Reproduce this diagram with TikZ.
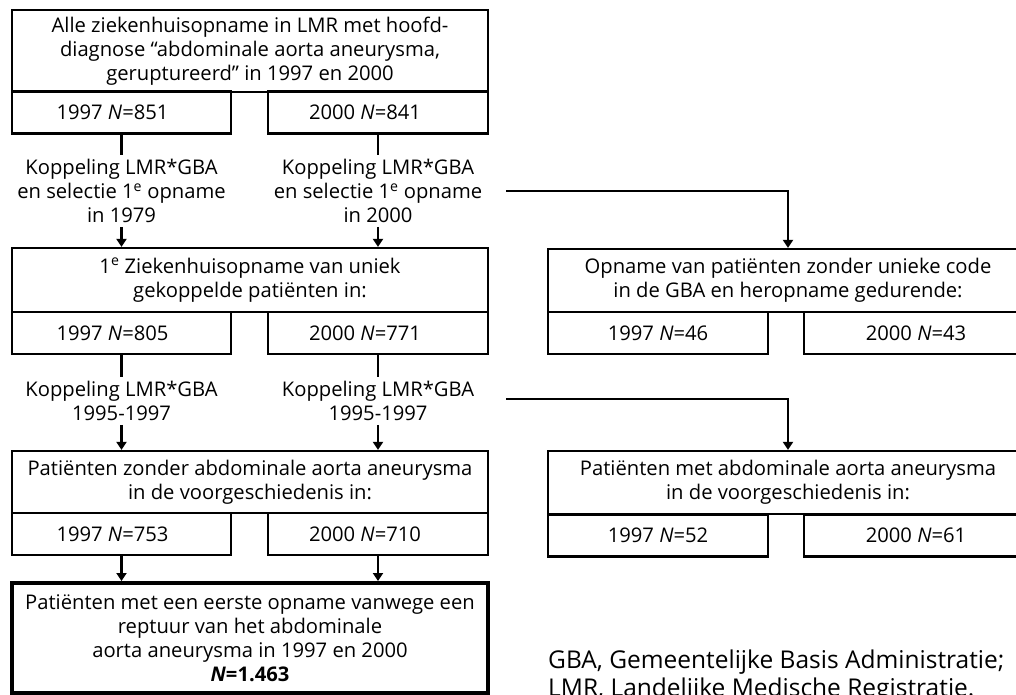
\documentclass[tikz,border=0pt]{standalone}
\usepackage{fontspec}
\setmainfont{Open Sans}
\usetikzlibrary{arrows.meta}
\newcommand\bxfont{\fontsize{20.2}{24}\selectfont}
\newcommand\ftfont{\fontsize{24.5}{27.5}\selectfont}
\begin{document}
\begin{tikzpicture}[x=1pt,y=-1pt,
  box/.style={draw, line width=2.2pt, inner sep=0pt, align=center, font=\bxfont},
  bigbox/.style={box, minimum width=476, },
  subbox/.style={draw, line width=2.2pt, inner sep=0pt, font=\bxfont, minimum height=42},
  lbl/.style={inner sep=4pt, align=center, font=\bxfont},
  conn/.style={line width=2.2pt},
  arr/.style={line width=2.2pt, -{Triangle[width=10pt,length=8pt]}},
]
\useasboundingbox (0,0) rectangle (1016,695);
\fill[white] (0,0) rectangle (1016,695);

% left column
\node[bigbox, minimum height=82] (A) at (250,51) {Alle ziekenhuisopname in LMR met hoofd-\\diagnose “abdominale aorta aneurysma,\\geruptureerd” in 1997 en 2000};
\node[subbox, minimum width=219] (A1) at (121.5,112.5) {1997 \textit{N}=851\hspace*{18pt}};
\node[subbox, minimum width=220] (A2) at (378,112.5) {2000 \textit{N}=841\hspace*{26pt}};
\node[lbl] (K1) at (121.5,191) {Koppeling LMR*GBA\\en selectie 1\textsuperscript{e} opname\\in 1979};
\node[lbl] (K2) at (378,191) {Koppeling LMR*GBA\\en selectie 1\textsuperscript{e} opname\\in 2000};

\node[bigbox, minimum height=64] (B) at (250,280) {1\textsuperscript{e} Ziekenhuisopname van uniek\\gekoppelde patiënten in:};
\node[subbox, minimum width=219] (B1) at (121.5,333) {1997 \textit{N}=805\hspace*{18pt}};
\node[subbox, minimum width=220] (B2) at (378,333) {2000 \textit{N}=771\hspace*{26pt}};
\node[lbl] (K3) at (121.5,401) {Koppeling LMR*GBA\\1995-1997};
\node[lbl] (K4) at (378,401) {Koppeling LMR*GBA\\1995-1997};

\node[bigbox, minimum height=62] (C) at (250,482) {Patiënten zonder abdominale aorta aneurysma\\in de voorgeschiedenis in:};
\node[subbox, minimum width=219] (C1) at (121.5,534) {1997 \textit{N}=753\hspace*{18pt}};
\node[subbox, minimum width=220] (C2) at (378,534) {2000 \textit{N}=710\hspace*{26pt}};

\node[bigbox, line width=4pt, minimum height=110] (D) at (250,638) {Patiënten met een eerste opname vanwege een\\reptuur van het abdominale\\aorta aneurysma in 1997 en 2000\\\textbf{\textit{N}=1.463}};

% right column
\node[box, minimum width=480, minimum height=63] (E) at (788,280.5) {Opname van patiënten zonder unieke code\\in de GBA en heropname gedurende:};
\node[subbox, minimum width=220] (E1) at (658,333) {1997 \textit{N}=46};
\node[subbox, minimum width=224] (E2) at (916,333) {2000 \textit{N}=43};

\node[box, minimum width=480, minimum height=63] (F) at (788,482.5) {Patiënten met abdominale aorta aneurysma\\in de voorgeschiedenis in:};
\node[subbox, minimum width=220] (F1) at (658,535.5) {1997 \textit{N}=52};
\node[subbox, minimum width=224] (F2) at (916,535.5) {2000 \textit{N}=61};

\node[anchor=north west, inner sep=0pt, align=left, font=\ftfont] (G) at (548,650) {GBA, Gemeentelijke Basis Administratie;\\LMR, Landelijke Medische Registratie.};

% connectors
\draw[conn] (A1) -- (K1);
\draw[conn] (A2) -- (K2);
\draw[arr] (K1.south) -- (K1.south |- B.north);
\draw[arr] (K2.south) -- (K2.south |- B.north);
\draw[conn] (B1) -- (K3);
\draw[conn] (B2) -- (K4);
\draw[arr] (K3.south) -- (K3.south |- C.north);
\draw[arr] (K4.south) -- (K4.south |- C.north);
\draw[arr] (C1.south) -- (C1.south |- D.north);
\draw[arr] (C2.south) -- (C2.south |- D.north);

\coordinate (r1) at (506,191);
\coordinate (r2) at (506,399);
\draw[arr] (r1) -| (E.north);
\draw[arr] (r2) -| (F.north);
\end{tikzpicture}
\end{document}
